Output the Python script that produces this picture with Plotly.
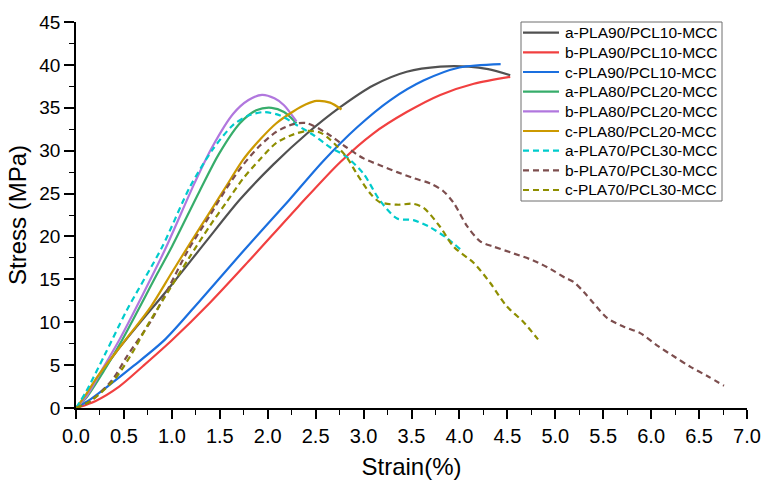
import plotly.graph_objects as go

# Stress-strain curves of PLA/PCL-MCC blends (strain in %, stress in MPa)
labels = [
    "a-PLA90/PCL10-MCC", "b-PLA90/PCL10-MCC", "c-PLA90/PCL10-MCC",
    "a-PLA80/PCL20-MCC", "b-PLA80/PCL20-MCC", "c-PLA80/PCL20-MCC",
    "a-PLA70/PCL30-MCC", "b-PLA70/PCL30-MCC", "c-PLA70/PCL30-MCC",
]

a90_strain = [0, 0.05, 0.41, 1.0, 1.37, 1.71, 2.06, 2.41, 2.76, 3.10, 3.45, 3.80, 4.1, 4.3, 4.53]
a90_stress = [0, 0.6, 6.4, 14.4, 19.6, 24.3, 28.4, 32.0, 35.1, 37.6, 39.2, 39.8, 39.8, 39.5, 38.8]

b90_strain = [0, 0.2, 0.45, 0.7, 1.0, 1.4, 1.8, 2.32, 2.75, 3.10, 3.45, 3.80, 4.15, 4.53]
b90_stress = [0, 0.8, 2.5, 4.9, 7.9, 12.3, 17.1, 23.5, 28.6, 32.0, 34.5, 36.5, 37.8, 38.6]

c90_strain = [0, 0.15, 0.34, 0.6, 0.93, 1.3, 1.73, 2.22, 2.58, 2.93, 3.28, 3.63, 4.0, 4.43]
c90_stress = [0, 1.0, 2.6, 4.9, 8.0, 12.6, 18.1, 24.2, 28.8, 32.7, 35.9, 38.2, 39.7, 40.1]

a80_strain = [0, 0.1, 0.3, 0.48, 0.85, 1.0, 1.29, 1.49, 1.71, 1.88, 2.04, 2.17, 2.3]
a80_stress = [0, 1.1, 4.5, 7.9, 15.7, 18.8, 25.3, 29.6, 33.2, 34.7, 35.0, 34.5, 33.2]

b80_strain = [0, 0.1, 0.3, 0.45, 0.7, 0.93, 1.24, 1.42, 1.64, 1.8, 1.94, 2.07, 2.17, 2.3]
b80_stress = [0, 1.2, 5.0, 7.9, 13.3, 18.5, 26.3, 30.4, 34.3, 35.9, 36.5, 36.1, 35.3, 33.4]

c80_strain = [0, 0.1, 0.22, 0.5, 0.78, 1.0, 1.19, 1.4, 1.57, 1.74, 1.92, 2.09, 2.27, 2.4, 2.51, 2.65, 2.77]
c80_stress = [0, 1.5, 3.6, 7.7, 11.8, 15.8, 19.2, 22.9, 25.9, 28.9, 31.3, 33.2, 34.6, 35.4, 35.8, 35.6, 34.8]

a70_strain = [0, 0.1, 0.3, 0.53, 0.9, 1.19, 1.43, 1.64, 1.8, 1.96, 2.13, 2.3, 2.48, 2.65, 2.82,
              3.0, 3.17, 3.35, 3.52, 3.69, 3.87, 4.02]
a70_stress = [0, 1.8, 6.2, 11.4, 18.8, 25.8, 30.2, 33.0, 34.1, 34.5, 34.1, 33.0, 31.8, 30.4, 29.3,
              27.3, 24.2, 22.1, 21.9, 21.1, 19.8, 18.4]

b70_strain = [0, 0.15, 0.38, 0.53, 0.79, 0.97, 1.17, 1.4, 1.57, 1.74, 1.92, 2.09, 2.27, 2.41,
              2.62, 2.82, 3.0, 3.17, 3.35, 3.52, 3.69, 3.83, 3.94, 4.08, 4.22, 4.36, 4.57, 4.77,
              4.95, 5.1, 5.19, 5.3, 5.4, 5.54, 5.71, 5.89, 6.06, 6.24, 6.41, 6.59, 6.76]
b70_stress = [0, 0.8, 3.3, 6.0, 10.3, 14.1, 18.4, 22.5, 25.6, 28.3, 30.6, 32.2, 33.1, 33.2,
              32.0, 30.4, 29.1, 28.3, 27.5, 26.8, 26.2, 25.3, 23.9, 21.2, 19.4, 18.8, 18.0, 17.2,
              16.2, 15.2, 14.7, 13.5, 12.2, 10.5, 9.5, 8.7, 7.3, 6.0, 4.8, 3.7, 2.6]

c70_strain = [0, 0.15, 0.4, 0.585, 0.76, 0.93, 1.18, 1.4, 1.57, 1.74, 1.92, 2.09, 2.27, 2.41,
              2.55, 2.65, 2.82, 2.93, 3.07, 3.17, 3.35, 3.52, 3.63, 3.8, 3.94, 4.15, 4.32, 4.49,
              4.67, 4.82]
c70_stress = [0, 0.8, 3.3, 6.4, 9.9, 13.0, 17.5, 21.3, 24.0, 26.7, 29.0, 30.9, 31.9, 32.3,
              32.1, 31.3, 29.3, 27.3, 25.0, 24.0, 23.7, 23.8, 23.3, 21.1, 18.8, 16.9, 14.6, 11.9,
              10.0, 8.0]

x_series = [a90_strain, b90_strain, c90_strain, a80_strain, b80_strain, c80_strain,
            a70_strain, b70_strain, c70_strain]
y_series = [a90_stress, b90_stress, c90_stress, a80_stress, b80_stress, c80_stress,
            a70_stress, b70_stress, c70_stress]

colors = ["#515151", "#F14040", "#1A6FDF", "#37AD6B", "#B177DE", "#CC9900",
          "#00CBCC", "#7D4E4E", "#8E8E00"]
dashes = ["solid"] * 6 + ["6px,4px"] * 3

W, H = 764, 482
ML, MR, MT, MB = 76, 17, 22, 74
PW, PH = W - ML - MR, H - MT - MB


def px_to_paper_x(px):
    return (px - ML) / PW


def px_to_paper_y(py):
    return (H - MB - py) / PH


fig = go.Figure()
for name, xs, ys, col, ds in zip(labels, x_series, y_series, colors, dashes):
    fig.add_trace(go.Scatter(
        x=xs, y=ys, name=name, mode="lines", showlegend=False,
        line=dict(color=col, width=2.2, dash=ds, shape="spline", smoothing=0.8),
    ))

# Boxed key in the upper-right corner of the plot area
font_family = "Liberation Sans, Arial, sans-serif"
box_left, box_right, box_top, box_bottom = 521, 722, 22, 201
row0, row_step = 32.7, 19.66
sample_x0, sample_x1, text_x = 523, 559, 563

shapes = [dict(
    type="rect", xref="paper", yref="paper",
    x0=px_to_paper_x(box_left), x1=px_to_paper_x(box_right),
    y0=px_to_paper_y(box_bottom), y1=px_to_paper_y(box_top),
    line=dict(color="#6e6e6e", width=1), fillcolor="white", layer="above",
)]
annotations = []
for i, (name, col, ds) in enumerate(zip(labels, colors, dashes)):
    yc = px_to_paper_y(row0 + i * row_step)
    shapes.append(dict(
        type="line", xref="paper", yref="paper",
        x0=px_to_paper_x(sample_x0), x1=px_to_paper_x(sample_x1), y0=yc, y1=yc,
        line=dict(color=col, width=2.2, dash=ds), layer="above",
    ))
    annotations.append(dict(
        xref="paper", yref="paper", x=px_to_paper_x(text_x), y=yc,
        xanchor="left", yanchor="middle", text=name, showarrow=False,
        font=dict(family=font_family, size=15.5, color="black"),
    ))

axis_font = dict(family=font_family, color="black")

fig.update_layout(
    width=W, height=H,
    margin=dict(l=ML, r=MR, t=MT, b=MB),
    paper_bgcolor="white", plot_bgcolor="white",
    font=dict(family=font_family, color="black"),
    showlegend=False,
    shapes=shapes,
    annotations=annotations,
    xaxis=dict(
        range=[0, 7], dtick=0.5, tickformat=".1f", automargin=False,
        showline=True, linecolor="black", linewidth=1.6,
        ticks="outside", ticklen=9, tickwidth=1.5, tickcolor="black",
        minor=dict(dtick=0.25, ticks="outside", ticklen=5, tickwidth=1.2, tickcolor="black"),
        showgrid=False, zeroline=False,
        tickfont=dict(size=20, **axis_font),
        title=dict(text="Strain(%)", font=dict(size=24, **axis_font), standoff=12),
    ),
    yaxis=dict(
        range=[0, 45], dtick=5, automargin=False,
        showline=True, linecolor="black", linewidth=1.6,
        ticks="outside", ticklen=10, tickwidth=1.5, tickcolor="black",
        minor=dict(dtick=2.5, ticks="outside", ticklen=5, tickwidth=1.2, tickcolor="black"),
        showgrid=False, zeroline=False,
        tickfont=dict(size=19, **axis_font),
        title=dict(text="Stress (MPa)", font=dict(size=24, **axis_font), standoff=6),
    ),
)

fig.write_html("out.html")
